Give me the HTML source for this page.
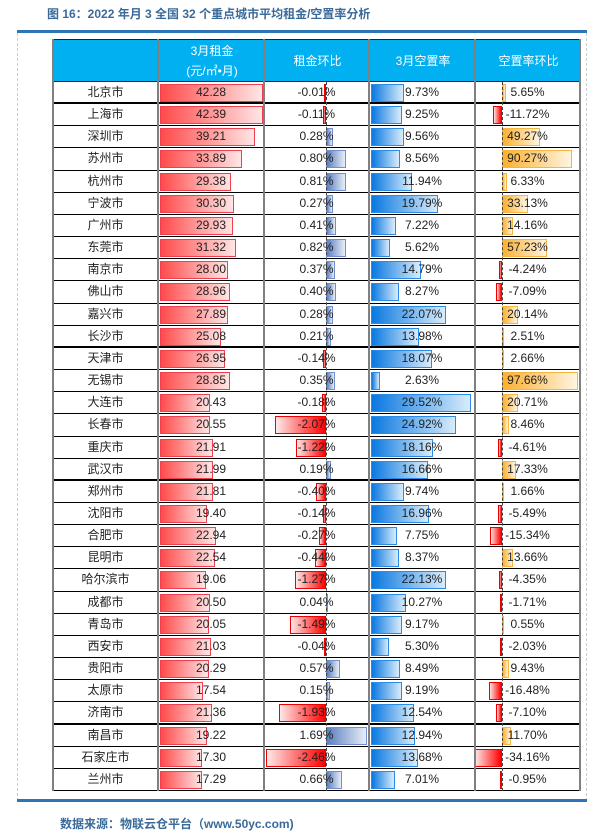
<!DOCTYPE html>
<html><head><meta charset="utf-8">
<style>
*{margin:0;padding:0;box-sizing:border-box}
body{width:609px;height:839px;background:#fff;position:relative;font-family:"Liberation Sans","Noto Sans CJK SC",sans-serif;overflow:hidden}
.title{position:absolute;left:47px;top:5px;font-size:12px;font-weight:bold;color:#3a6a9a}
.bl{position:absolute;left:17px;width:570px;height:3px;background:#2e75b6}
.frame{position:absolute;left:17px;top:33px;width:570px;height:768px;border-left:1px dashed #ccc;border-right:1px dashed #ccc}
.hdr{position:absolute;left:53px;top:39px;width:527px;height:43px;background:#00b0f0;border:1px solid #222}
.hdr div{position:absolute;top:0;height:41px;color:#fff;font-size:12px;display:flex;align-items:center;justify-content:center;text-align:center;line-height:20px}
.tb{position:absolute;left:53px;top:82px;width:527px}
.r{position:relative;height:22.17px;border-bottom:1px solid #000;font-size:12px;color:#222}
.r.t{border-bottom:2px solid #000}
.r span{position:absolute;top:0;height:21px;line-height:21px;text-align:center}
.c1{left:0;width:105px}.c2{left:105px;width:106px}.c3{left:211px;width:105px}.c4{left:316px;width:106px}.c5{left:422px;width:105px}
.r i{position:absolute;top:2px;height:18px;display:block}
.a{left:107px;width:calc(var(--v)*2.43px);background:linear-gradient(90deg,#ff4a4a,#ffe5e5);border:1px solid #f04050}
.bp{left:273px;width:calc(var(--v)*24.5px);background:linear-gradient(90deg,#5b7fc0,#e8eef8);border:1px solid #6f8fcf}
.bn{right:254px;width:calc(var(--v)*24.5px);background:linear-gradient(90deg,#ffe8e8,#f00);border:1px solid #e00}
.cv{left:318px;width:calc(var(--v)*3.4px);background:linear-gradient(90deg,#0a78e0,#d8ecfb);border:1px solid #2a8ae8}
.dp{left:449px;width:calc(var(--v)*0.78px);background:linear-gradient(90deg,#fbb030,#fff4e0);border:1px solid #f5b540}
.dn{right:78px;width:calc(var(--v)*0.78px);background:linear-gradient(90deg,#ffe0e0,#f00);border:1px solid #e00}
.vl{position:absolute;top:39px;height:752px;width:2px;background:#808080}
.ax{position:absolute;top:82px;height:709px;width:0;border-left:1px dashed #444}
.src{position:absolute;left:60px;top:815px;font-size:12px;font-weight:bold;color:#3a6a9a}
</style></head><body>
<div class="title">图 16：2022 年月 3 全国 32 个重点城市平均租金/空置率分析</div>
<div class="bl" style="top:30px"></div>
<div class="frame"></div>
<div class="hdr">
<div style="left:105px;width:106px">3月租金<br>(元/㎡•月)</div>
<div style="left:211px;width:105px">租金环比</div>
<div style="left:316px;width:106px">3月空置率</div>
<div style="left:422px;width:105px">空置率环比</div>
</div>
<div class="tb">
<div class="r t"><span class="c1">北京市</span><i class="a" style="--v:42.28"></i><span class="c2">42.28</span><i class="bn" style="--v:0.01"></i><span class="c3">-0.01%</span><i class="cv" style="--v:9.73"></i><span class="c4">9.73%</span><i class="dp" style="--v:5.65"></i><span class="c5">5.65%</span></div>
<div class="r"><span class="c1">上海市</span><i class="a" style="--v:42.39"></i><span class="c2">42.39</span><i class="bn" style="--v:0.11"></i><span class="c3">-0.11%</span><i class="cv" style="--v:9.25"></i><span class="c4">9.25%</span><i class="dn" style="--v:11.72"></i><span class="c5">-11.72%</span></div>
<div class="r"><span class="c1">深圳市</span><i class="a" style="--v:39.21"></i><span class="c2">39.21</span><i class="bp" style="--v:0.28"></i><span class="c3">0.28%</span><i class="cv" style="--v:9.56"></i><span class="c4">9.56%</span><i class="dp" style="--v:49.27"></i><span class="c5">49.27%</span></div>
<div class="r"><span class="c1">苏州市</span><i class="a" style="--v:33.89"></i><span class="c2">33.89</span><i class="bp" style="--v:0.80"></i><span class="c3">0.80%</span><i class="cv" style="--v:8.56"></i><span class="c4">8.56%</span><i class="dp" style="--v:90.27"></i><span class="c5">90.27%</span></div>
<div class="r"><span class="c1">杭州市</span><i class="a" style="--v:29.38"></i><span class="c2">29.38</span><i class="bp" style="--v:0.81"></i><span class="c3">0.81%</span><i class="cv" style="--v:11.94"></i><span class="c4">11.94%</span><i class="dp" style="--v:6.33"></i><span class="c5">6.33%</span></div>
<div class="r"><span class="c1">宁波市</span><i class="a" style="--v:30.30"></i><span class="c2">30.30</span><i class="bp" style="--v:0.27"></i><span class="c3">0.27%</span><i class="cv" style="--v:19.79"></i><span class="c4">19.79%</span><i class="dp" style="--v:33.13"></i><span class="c5">33.13%</span></div>
<div class="r"><span class="c1">广州市</span><i class="a" style="--v:29.93"></i><span class="c2">29.93</span><i class="bp" style="--v:0.41"></i><span class="c3">0.41%</span><i class="cv" style="--v:7.22"></i><span class="c4">7.22%</span><i class="dp" style="--v:14.16"></i><span class="c5">14.16%</span></div>
<div class="r"><span class="c1">东莞市</span><i class="a" style="--v:31.32"></i><span class="c2">31.32</span><i class="bp" style="--v:0.82"></i><span class="c3">0.82%</span><i class="cv" style="--v:5.62"></i><span class="c4">5.62%</span><i class="dp" style="--v:57.23"></i><span class="c5">57.23%</span></div>
<div class="r"><span class="c1">南京市</span><i class="a" style="--v:28.00"></i><span class="c2">28.00</span><i class="bp" style="--v:0.37"></i><span class="c3">0.37%</span><i class="cv" style="--v:14.79"></i><span class="c4">14.79%</span><i class="dn" style="--v:4.24"></i><span class="c5">-4.24%</span></div>
<div class="r"><span class="c1">佛山市</span><i class="a" style="--v:28.96"></i><span class="c2">28.96</span><i class="bp" style="--v:0.40"></i><span class="c3">0.40%</span><i class="cv" style="--v:8.27"></i><span class="c4">8.27%</span><i class="dn" style="--v:7.09"></i><span class="c5">-7.09%</span></div>
<div class="r"><span class="c1">嘉兴市</span><i class="a" style="--v:27.89"></i><span class="c2">27.89</span><i class="bp" style="--v:0.28"></i><span class="c3">0.28%</span><i class="cv" style="--v:22.07"></i><span class="c4">22.07%</span><i class="dp" style="--v:20.14"></i><span class="c5">20.14%</span></div>
<div class="r t"><span class="c1">长沙市</span><i class="a" style="--v:25.08"></i><span class="c2">25.08</span><i class="bp" style="--v:0.21"></i><span class="c3">0.21%</span><i class="cv" style="--v:13.98"></i><span class="c4">13.98%</span><i class="dp" style="--v:2.51"></i><span class="c5">2.51%</span></div>
<div class="r"><span class="c1">天津市</span><i class="a" style="--v:26.95"></i><span class="c2">26.95</span><i class="bn" style="--v:0.14"></i><span class="c3">-0.14%</span><i class="cv" style="--v:18.07"></i><span class="c4">18.07%</span><i class="dp" style="--v:2.66"></i><span class="c5">2.66%</span></div>
<div class="r"><span class="c1">无锡市</span><i class="a" style="--v:28.85"></i><span class="c2">28.85</span><i class="bp" style="--v:0.35"></i><span class="c3">0.35%</span><i class="cv" style="--v:2.63"></i><span class="c4">2.63%</span><i class="dp" style="--v:97.66"></i><span class="c5">97.66%</span></div>
<div class="r"><span class="c1">大连市</span><i class="a" style="--v:20.43"></i><span class="c2">20.43</span><i class="bn" style="--v:0.18"></i><span class="c3">-0.18%</span><i class="cv" style="--v:29.52"></i><span class="c4">29.52%</span><i class="dp" style="--v:20.71"></i><span class="c5">20.71%</span></div>
<div class="r"><span class="c1">长春市</span><i class="a" style="--v:20.55"></i><span class="c2">20.55</span><i class="bn" style="--v:2.07"></i><span class="c3">-2.07%</span><i class="cv" style="--v:24.92"></i><span class="c4">24.92%</span><i class="dp" style="--v:8.46"></i><span class="c5">8.46%</span></div>
<div class="r"><span class="c1">重庆市</span><i class="a" style="--v:21.91"></i><span class="c2">21.91</span><i class="bn" style="--v:1.22"></i><span class="c3">-1.22%</span><i class="cv" style="--v:18.16"></i><span class="c4">18.16%</span><i class="dn" style="--v:4.61"></i><span class="c5">-4.61%</span></div>
<div class="r t"><span class="c1">武汉市</span><i class="a" style="--v:21.99"></i><span class="c2">21.99</span><i class="bp" style="--v:0.19"></i><span class="c3">0.19%</span><i class="cv" style="--v:16.66"></i><span class="c4">16.66%</span><i class="dp" style="--v:17.33"></i><span class="c5">17.33%</span></div>
<div class="r"><span class="c1">郑州市</span><i class="a" style="--v:21.81"></i><span class="c2">21.81</span><i class="bn" style="--v:0.40"></i><span class="c3">-0.40%</span><i class="cv" style="--v:9.74"></i><span class="c4">9.74%</span><i class="dp" style="--v:1.66"></i><span class="c5">1.66%</span></div>
<div class="r"><span class="c1">沈阳市</span><i class="a" style="--v:19.40"></i><span class="c2">19.40</span><i class="bn" style="--v:0.14"></i><span class="c3">-0.14%</span><i class="cv" style="--v:16.96"></i><span class="c4">16.96%</span><i class="dn" style="--v:5.49"></i><span class="c5">-5.49%</span></div>
<div class="r"><span class="c1">合肥市</span><i class="a" style="--v:22.94"></i><span class="c2">22.94</span><i class="bn" style="--v:0.27"></i><span class="c3">-0.27%</span><i class="cv" style="--v:7.75"></i><span class="c4">7.75%</span><i class="dn" style="--v:15.34"></i><span class="c5">-15.34%</span></div>
<div class="r"><span class="c1">昆明市</span><i class="a" style="--v:22.54"></i><span class="c2">22.54</span><i class="bn" style="--v:0.44"></i><span class="c3">-0.44%</span><i class="cv" style="--v:8.37"></i><span class="c4">8.37%</span><i class="dp" style="--v:13.66"></i><span class="c5">13.66%</span></div>
<div class="r"><span class="c1">哈尔滨市</span><i class="a" style="--v:19.06"></i><span class="c2">19.06</span><i class="bn" style="--v:1.27"></i><span class="c3">-1.27%</span><i class="cv" style="--v:22.13"></i><span class="c4">22.13%</span><i class="dn" style="--v:4.35"></i><span class="c5">-4.35%</span></div>
<div class="r"><span class="c1">成都市</span><i class="a" style="--v:20.50"></i><span class="c2">20.50</span><i class="bp" style="--v:0.04"></i><span class="c3">0.04%</span><i class="cv" style="--v:10.27"></i><span class="c4">10.27%</span><i class="dn" style="--v:1.71"></i><span class="c5">-1.71%</span></div>
<div class="r"><span class="c1">青岛市</span><i class="a" style="--v:20.05"></i><span class="c2">20.05</span><i class="bn" style="--v:1.49"></i><span class="c3">-1.49%</span><i class="cv" style="--v:9.17"></i><span class="c4">9.17%</span><i class="dp" style="--v:0.55"></i><span class="c5">0.55%</span></div>
<div class="r"><span class="c1">西安市</span><i class="a" style="--v:21.03"></i><span class="c2">21.03</span><i class="bn" style="--v:0.04"></i><span class="c3">-0.04%</span><i class="cv" style="--v:5.30"></i><span class="c4">5.30%</span><i class="dn" style="--v:2.03"></i><span class="c5">-2.03%</span></div>
<div class="r"><span class="c1">贵阳市</span><i class="a" style="--v:20.29"></i><span class="c2">20.29</span><i class="bp" style="--v:0.57"></i><span class="c3">0.57%</span><i class="cv" style="--v:8.49"></i><span class="c4">8.49%</span><i class="dp" style="--v:9.43"></i><span class="c5">9.43%</span></div>
<div class="r"><span class="c1">太原市</span><i class="a" style="--v:17.54"></i><span class="c2">17.54</span><i class="bp" style="--v:0.15"></i><span class="c3">0.15%</span><i class="cv" style="--v:9.19"></i><span class="c4">9.19%</span><i class="dn" style="--v:16.48"></i><span class="c5">-16.48%</span></div>
<div class="r t"><span class="c1">济南市</span><i class="a" style="--v:21.36"></i><span class="c2">21.36</span><i class="bn" style="--v:1.93"></i><span class="c3">-1.93%</span><i class="cv" style="--v:12.54"></i><span class="c4">12.54%</span><i class="dn" style="--v:7.10"></i><span class="c5">-7.10%</span></div>
<div class="r"><span class="c1">南昌市</span><i class="a" style="--v:19.22"></i><span class="c2">19.22</span><i class="bp" style="--v:1.69"></i><span class="c3">1.69%</span><i class="cv" style="--v:12.94"></i><span class="c4">12.94%</span><i class="dp" style="--v:11.70"></i><span class="c5">11.70%</span></div>
<div class="r"><span class="c1">石家庄市</span><i class="a" style="--v:17.30"></i><span class="c2">17.30</span><i class="bn" style="--v:2.46"></i><span class="c3">-2.46%</span><i class="cv" style="--v:13.68"></i><span class="c4">13.68%</span><i class="dn" style="--v:34.16"></i><span class="c5">-34.16%</span></div>
<div class="r"><span class="c1">兰州市</span><i class="a" style="--v:17.29"></i><span class="c2">17.29</span><i class="bp" style="--v:0.66"></i><span class="c3">0.66%</span><i class="cv" style="--v:7.01"></i><span class="c4">7.01%</span><i class="dn" style="--v:0.95"></i><span class="c5">-0.95%</span></div>
</div>
<div class="ax" style="left:326px"></div>
<div class="ax" style="left:502px"></div>
<div class="vl" style="left:52px"></div>
<div class="vl" style="left:157px"></div>
<div class="vl" style="left:263px"></div>
<div class="vl" style="left:368px"></div>
<div class="vl" style="left:474px"></div>
<div class="vl" style="left:579px"></div>
<div class="bl" style="top:799px"></div>
<div class="src">数据来源：物联云仓平台（www.50yc.com)</div>
</body></html>
